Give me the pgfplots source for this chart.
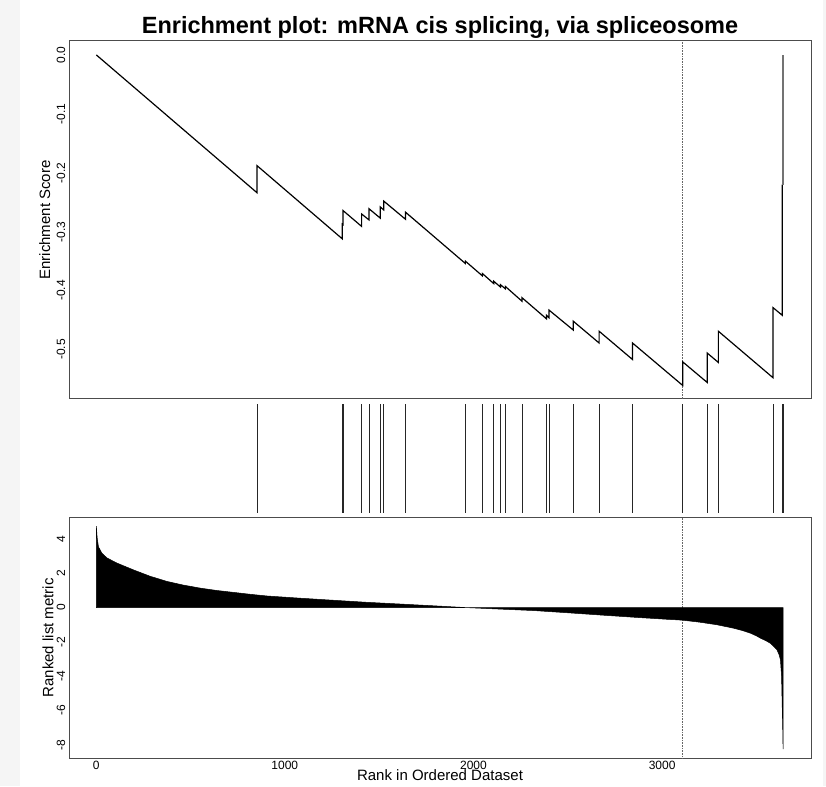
\documentclass[border=0pt]{standalone}
\usepackage{fontspec}
\setmainfont{Liberation Sans}
\usepackage{pgfplots}
\pgfplotsset{compat=1.18}
\begin{document}
\begin{tikzpicture}
\fill[white] (0pt,0pt) rectangle (826pt,786pt);
\fill[black!4] (0pt,0pt) rectangle (20pt,786pt);
\fill[black!4] (823pt,0pt) rectangle (826pt,786pt);
\pgfplotsset{gseaframe/.style={scale only axis, width=742pt, xmin=-144, xmax=3789,
  axis line style={black!70, line width=1pt}, major tick length=0pt, tick style={draw=none},
  tick label style={font=\fontsize{12}{14}\selectfont},
  label style={font=\fontsize{15}{18}\selectfont}}}
% ---------------- top panel: enrichment score
\begin{axis}[gseaframe, at={(69pt,387pt)}, anchor=south west, height=358pt,
  ymin=-0.584, ymax=0.0237, xtick=\empty,
  ytick={-0.5,-0.4,-0.3,-0.2,-0.1,0}, yticklabels={-0.5,-0.4,-0.3,-0.2,-0.1,0.0},
  yticklabel style={rotate=90, anchor=base}, yticklabel shift=4pt,
  ylabel={Enrichment Score}, ylabel style={at={(axis description cs:-0.0256,0.5)}, anchor=base}]
\addplot[black!60, densely dotted, line width=0.6pt] coordinates {(3107,-0.584) (3107,0.0237)};
\addplot[black, line width=1.2pt, line join=miter] coordinates {
(1,0)
(853,-0.234) (853,-0.188)
(1304,-0.312) (1304,-0.287) (1308,-0.288) (1308,-0.264)
(1407,-0.291) (1407,-0.270)
(1446,-0.280) (1446,-0.261)
(1506,-0.277) (1506,-0.258)
(1524,-0.263) (1524,-0.248)
(1640,-0.279) (1640,-0.267)
(1957,-0.354) (1957,-0.350)
(2047,-0.375) (2047,-0.371)
(2107,-0.388) (2107,-0.384)
(2143,-0.394) (2143,-0.390)
(2169,-0.397) (2169,-0.393)
(2257,-0.418) (2257,-0.412)
(2387,-0.448) (2387,-0.442)
(2400,-0.446) (2400,-0.433)
(2529,-0.467) (2529,-0.452)
(2666,-0.489) (2666,-0.469)
(2843,-0.517) (2843,-0.489)
(3109,-0.561) (3109,-0.521)
(3239,-0.556) (3239,-0.506)
(3298,-0.522) (3298,-0.469)
(3588,-0.548) (3588,-0.429)
(3637,-0.442) (3637,-0.220)
};
\addplot[black!55, line width=1.2pt] coordinates {(3640,-0.221) (3640,0.0)};
\end{axis}
\node[anchor=base, font=\fontsize{23.5}{28}\selectfont\bfseries] at (440pt,752.5pt)
  {Enrichment plot: mRNA cis splicing, via spliceosome};
% ---------------- middle panel: hits
\begin{axis}[scale only axis, width=742pt, height=109pt, at={(69pt,273pt)}, anchor=south west,
  xmin=-144, xmax=3789, ymin=0, ymax=1, axis lines=none, ticks=none]
\addplot[ycomb, black!85, line width=0.7pt, mark=none] coordinates {
(853,1) (1304,1) (1308,1) (1407,1) (1446,1) (1506,1) (1524,1) (1640,1)
(1957,1) (2047,1) (2107,1) (2143,1) (2169,1) (2257,1) (2387,1) (2400,1)
(2529,1) (2666,1) (2843,1) (3109,1) (3239,1) (3298,1) (3588,1) (3637,1) (3640,1)};
\end{axis}
% ---------------- bottom panel: ranked list metric
\begin{axis}[gseaframe, at={(69pt,27.7pt)}, anchor=south west, height=241pt,
  ymin=-8.79, ymax=5.27,
  xtick={0,1000,2000,3000}, xticklabels={0,1000,2000,3000},
  xticklabel style={anchor=north, inner sep=0pt}, xticklabel shift=2.7pt,
  ytick={-8,-6,-4,-2,0,2,4}, yticklabels={-8,-6,-4,-2,0,2,4},
  yticklabel style={rotate=90, anchor=base}, yticklabel shift=4pt,
  xlabel={Rank in Ordered Dataset},
  xlabel style={at={(axis description cs:0.5,0)}, anchor=base, yshift=-22.4pt},
  ylabel={Ranked list metric}, ylabel style={at={(axis description cs:-0.0212,0.5)}, anchor=base}]
\addplot[black!60, densely dotted, line width=0.6pt] coordinates {(3107,-8.79) (3107,5.27)};
\addplot[fill=black, draw=black, line width=0.5pt] coordinates {
(1,0) (1,4.75) (5,4.1) (12,3.55) (30,3.18) (57,2.9) (110,2.6) (198,2.2) (286,1.83)
(375,1.53) (460,1.32) (551,1.14) (640,1.0) (728,0.89) (815,0.78) (905,0.68)
(1082,0.55) (1258,0.43) (1435,0.31) (1612,0.21) (1800,0.1) (1966,0.0) (2150,-0.09)
(2319,-0.17) (2500,-0.3) (2672,-0.43) (2850,-0.56) (3026,-0.68) (3107,-0.73)
(3200,-0.85) (3291,-1.0) (3379,-1.2) (3430,-1.35) (3468,-1.49) (3500,-1.65)
(3521,-1.78) (3550,-1.93) (3574,-2.08) (3595,-2.3) (3609,-2.47) (3620,-2.75)
(3627,-3.05) (3633,-4.0) (3636,-5.57) (3639,-7.0) (3641,-8.25) (3641,0)} -- cycle;
\end{axis}
\end{tikzpicture}
\end{document}
